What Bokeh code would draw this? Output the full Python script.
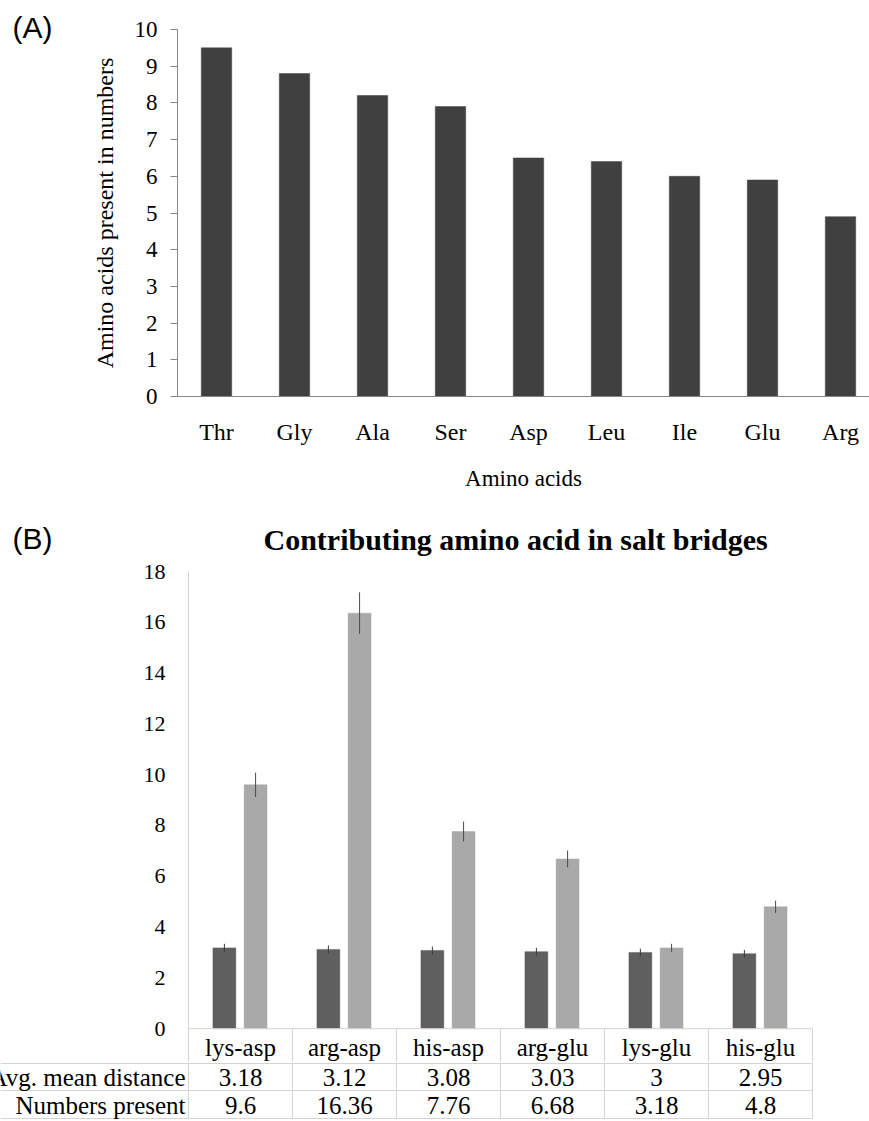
from bokeh.plotting import figure
from bokeh.models import Range1d, FixedTicker, ColumnDataSource
from bokeh.layouts import column, row
from bokeh.embed import file_html
from bokeh.resources import INLINE
from bokeh.core.properties import value

# ---- Panel A: amino acid composition ----
amino_acids = ["Thr", "Gly", "Ala", "Ser", "Asp", "Leu", "Ile", "Glu", "Arg"]
amino_counts = [9.5, 8.8, 8.2, 7.9, 6.5, 6.4, 6.0, 5.9, 4.9]
a_ticks = [0, 1, 2, 3, 4, 5, 6, 7, 8, 9, 10]

# ---- Panel B: salt-bridge pairs ----
pairs = ["lys-asp", "arg-asp", "his-asp", "arg-glu", "lys-glu", "his-glu"]
avg_mean_distance = [3.18, 3.12, 3.08, 3.03, 3, 2.95]
numbers_present = [9.6, 16.36, 7.76, 6.68, 3.18, 4.8]
distance_err = [0.16, 0.16, 0.15, 0.15, 0.15, 0.15]
numbers_err = [0.48, 0.82, 0.39, 0.33, 0.16, 0.24]
b_ticks = [0, 2, 4, 6, 8, 10, 12, 14, 16, 18]
row_names = ["Avg. mean distance", "Numbers present"]

SERIF = "'Liberation Serif', 'Times New Roman', 'DejaVu Serif', serif"
SANS = "'Liberation Sans', Arial, sans-serif"
W = 869
TAG_W = 60      # strip on the left holding the panel tag


def tag_strip(tag, height, y_mid):
    """Narrow blank plot that carries a panel tag such as (A)."""
    s = figure(width=TAG_W, height=height, output_backend="svg",
               toolbar_location=None, min_border=0,
               x_axis_location=None, y_axis_location=None,
               x_range=Range1d(0, TAG_W), y_range=Range1d(height, 0))
    s.grid.visible = False
    s.outline_line_color = None
    s.text(x=[12], y=[y_mid], text=[tag], text_font=value(SANS),
           text_font_size="30px", text_color="black", text_align="left",
           text_baseline="middle")
    return s


# ================= Panel A =================
A_H = 505
A_LEFT, A_TOP, A_ZERO = 177, 29, 396
A_CAT = 78.0  # px per category
pA = figure(width=W - TAG_W, height=A_H, output_backend="svg", toolbar_location=None,
            min_border_left=A_LEFT - TAG_W, min_border_right=0, min_border_top=A_TOP,
            min_border_bottom=A_H - A_ZERO,
            x_range=Range1d(-0.5, -0.5 + (W - A_LEFT) / A_CAT),
            y_range=Range1d(a_ticks[0], a_ticks[-1]))
srcA = ColumnDataSource(dict(x=list(range(len(amino_acids))), top=amino_counts))
pA.vbar(x="x", top="top", width=0.39, source=srcA, fill_color="#404040",
        line_color="#404040", line_width=0.5)

pA.xaxis.ticker = FixedTicker(ticks=list(range(len(amino_acids))))
pA.xaxis.major_label_overrides = {i: n for i, n in enumerate(amino_acids)}
pA.xaxis.major_tick_out = 0
pA.xaxis.major_tick_in = 0
pA.xaxis.minor_tick_line_color = None
pA.xaxis.axis_line_color = "#868686"
pA.xaxis.major_label_standoff = 22
pA.xaxis.axis_label = "Amino acids"
pA.xaxis.axis_label_standoff = 18

pA.yaxis.ticker = FixedTicker(ticks=a_ticks)
pA.yaxis.major_tick_out = 7
pA.yaxis.major_tick_in = 0
pA.yaxis.minor_tick_line_color = None
pA.yaxis.axis_line_color = "#868686"
pA.yaxis.major_tick_line_color = "#868686"
pA.yaxis.major_label_standoff = 13
pA.yaxis.axis_label = "Amino acids present in numbers"
pA.yaxis.axis_label_standoff = 14

for ax, size, lsize in ((pA.xaxis, "24px", "23px"), (pA.yaxis, "23px", "24px")):
    ax.major_label_text_font = SERIF
    ax.major_label_text_font_size = size
    ax.major_label_text_color = "black"
    ax.axis_label_text_font = SERIF
    ax.axis_label_text_font_size = lsize
    ax.axis_label_text_font_style = "normal"
    ax.axis_label_text_color = "black"

pA.grid.visible = False
pA.outline_line_color = None

# ================= Panel B =================
B_TOP_FIG = A_H
B_LEFT, B_TOP, B_ZERO = 188, 569, 1028
B_BOTTOM = 1062          # end of chart + table header row
B_CAT = 104.0            # px per category / table column
B_PX = (B_ZERO - B_TOP) / b_ticks[-1]
B_RIGHT = int(B_LEFT + B_CAT * len(pairs) + 1)
B_H = B_BOTTOM - B_TOP_FIG

pB = figure(width=W - TAG_W, height=B_H, output_backend="svg",
            toolbar_location=None,
            min_border_left=B_LEFT - TAG_W, min_border_right=W - B_RIGHT,
            min_border_top=B_TOP - B_TOP_FIG, min_border_bottom=0,
            x_range=Range1d(-0.5, -0.5 + (B_RIGHT - B_LEFT) / B_CAT),
            y_range=Range1d(-(B_BOTTOM - B_ZERO) / B_PX, b_ticks[-1]))

xs = list(range(len(pairs)))
dark_x = [i - 0.155 for i in xs]
light_x = [i + 0.145 for i in xs]
pB.vbar(x=dark_x, top=avg_mean_distance, width=0.22, fill_color="#5f5f5f",
        line_color="#5f5f5f", line_width=0.5)
pB.vbar(x=light_x, top=numbers_present, width=0.22, fill_color="#a9a9a9",
        line_color="#a9a9a9", line_width=0.5)
pB.segment(x0=dark_x, x1=dark_x,
           y0=[v - e for v, e in zip(avg_mean_distance, distance_err)],
           y1=[v + e for v, e in zip(avg_mean_distance, distance_err)],
           line_color="#3a3a3a", line_width=1)
pB.segment(x0=light_x, x1=light_x,
           y0=[v - e for v, e in zip(numbers_present, numbers_err)],
           y1=[v + e for v, e in zip(numbers_present, numbers_err)],
           line_color="#4a4a4a", line_width=1)

# table header row (pair names) directly under the zero line
bounds = [i - 0.5 for i in range(len(pairs) + 1)]
GRID = "#d4d4d4"
pB.segment(x0=[bounds[0]], x1=[bounds[-1]], y0=[0], y1=[0],
           line_color=GRID, line_width=1)
pB.segment(x0=bounds[1:], x1=bounds[1:], y0=[0] * len(pairs),
           y1=[-(B_BOTTOM - B_ZERO) / B_PX] * len(pairs),
           line_color=GRID, line_width=1)
pB.text(x=xs, y=[-(1047 - B_ZERO) / B_PX] * len(pairs), text=pairs,
        text_font=value(SERIF), text_font_size="25px", text_color="black",
        text_align="center", text_baseline="middle")

pB.xaxis.visible = False
pB.yaxis.ticker = FixedTicker(ticks=b_ticks)
pB.yaxis.major_tick_out = 0
pB.yaxis.major_tick_in = 0
pB.yaxis.minor_tick_line_color = None
pB.yaxis.axis_line_color = GRID
pB.yaxis.major_label_standoff = 23
pB.yaxis.major_label_text_font = SERIF
pB.yaxis.major_label_text_font_size = "22px"
pB.yaxis.major_label_text_color = "black"
pB.grid.visible = False
pB.outline_line_color = None

pB.title.text = "Contributing amino acid in salt bridges"
pB.title.text_font = SERIF
pB.title.text_font_size = "30px"
pB.title.text_font_style = "bold"
pB.title.text_color = "black"
pB.title.align = "left"
pB.title.offset = 75
pB.title.standoff = 31

# ================= data table rows =================
T_TOP = B_BOTTOM
T_H = 1121 - T_TOP
pT = figure(width=W, height=T_H, output_backend="svg", toolbar_location=None,
            min_border=0, x_axis_location=None, y_axis_location=None,
            x_range=Range1d(-0.5 - B_LEFT / B_CAT, -0.5 + (W - B_LEFT) / B_CAT),
            y_range=Range1d(-(1121 - B_ZERO), -(T_TOP - B_ZERO)))
pT.grid.visible = False
pT.outline_line_color = None

row_edges = [-35, -62, -90]     # px below the zero line
row_mid = [-49, -77]
x_left = pT.x_range.start
pT.segment(x0=[x_left] * 3, x1=[bounds[-1]] * 3, y0=row_edges, y1=row_edges,
           line_color=GRID, line_width=1)
pT.segment(x0=bounds, x1=bounds, y0=[row_edges[0]] * len(bounds),
           y1=[row_edges[-1]] * len(bounds), line_color=GRID, line_width=1)
pT.text(x=[bounds[0]] * 2, y=row_mid, text=row_names, x_offset=-3,
        text_font=value(SERIF), text_font_size="25px", text_color="black",
        text_align="right", text_baseline="middle")
for row_vals, ym in ((avg_mean_distance, row_mid[0]), (numbers_present, row_mid[1])):
    pT.text(x=xs, y=[ym] * len(xs), text=["{:g}".format(v) for v in row_vals],
            text_font=value(SERIF), text_font_size="25px", text_color="black",
            text_align="center", text_baseline="middle")

layout = column(row(tag_strip("(A)", A_H, 27), column(pA), spacing=0),
                row(tag_strip("(B)", B_H, 538 - B_TOP_FIG), column(pB), spacing=0),
                pT, spacing=0)
open("out.html", "w").write(file_html(layout, INLINE))
